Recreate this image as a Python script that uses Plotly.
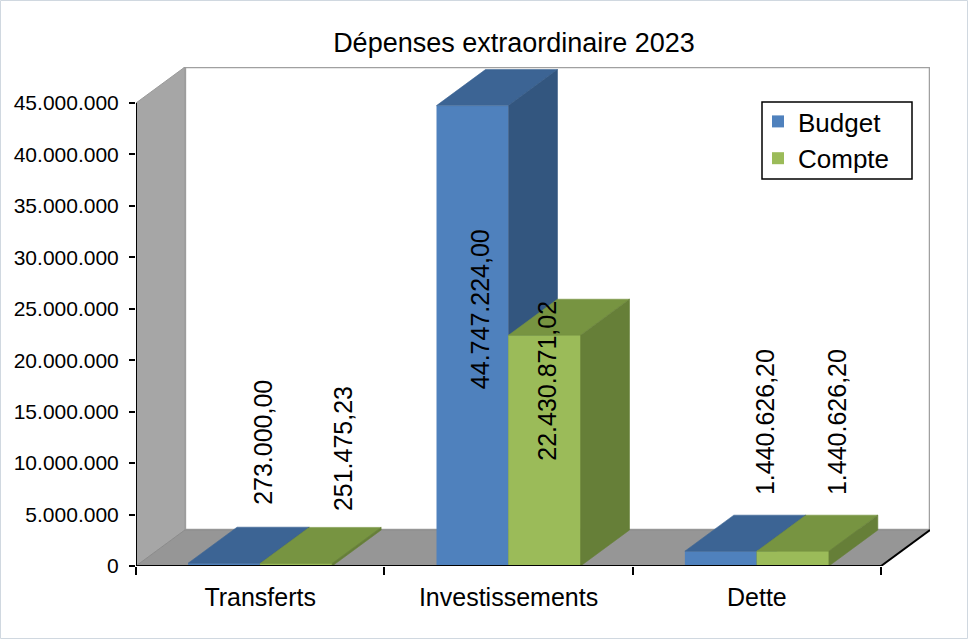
import plotly.graph_objects as go

# ---- data -------------------------------------------------------------
categories = ["Transferts", "Investissements", "Dette"]
budget = [273000.00, 44747224.00, 1440626.20]
compte = [251475.23, 22430871.02, 1440626.20]
y_ticks = [0, 5e6, 10e6, 15e6, 20e6, 25e6, 30e6, 35e6, 40e6, 45e6]
title_text = "Dépenses extraordinaire 2023"

# ---- styling ----------------------------------------------------------
FONT = "Liberation Sans, Arial, sans-serif"
W, H = 968, 639
M_L, M_R, M_T, M_B = 136, 38, 67, 73
PW, PH = W - M_L - M_R, H - M_T - M_B
BAR_W = 0.29            # width of one bar, in category units
DEPTH_X = 0.197         # 3-D depth offset, category units
DEPTH_Y = 3.5e6         # 3-D depth offset, value units
Y_TOP = 45e6
LEGEND_BOX = (762, 102, 912, 179)   # left, top, right, bottom in px

SERIES = [
    dict(name="Budget", values=budget, side=-1,
         front="#4F81BD", top="#3C6494", right="#33567F",
         lab_dx=[39, 7, 44], lab_dy=[56, -286, 54]),
    dict(name="Compte", values=compte, side=1,
         front="#9BBB59", top="#779441", right="#667F38",
         lab_dx=[47, 3, 44], lab_dy=[50, -128, 54]),
]


def fmt_eu(v, dec=2):
    s = f"{v:,.{dec}f}"
    return s.replace(",", "X").replace(".", ",").replace("X", ".")


def px_x(p):
    return (p - M_L) / PW


def px_y(p):
    return (H - M_B - p) / PH


def poly(xs, ys, color):
    return go.Scatter(x=xs + [xs[0]], y=ys + [ys[0]], mode="lines",
                      fill="toself", fillcolor=color,
                      line=dict(color=color, width=0.6),
                      hoverinfo="skip", showlegend=False)


fig = go.Figure()

# front faces as bars (also provide the legend entries)
for s in SERIES:
    xs = [i + 0.5 + s["side"] * BAR_W / 2 for i in range(len(categories))]
    fig.add_trace(go.Bar(x=xs, y=s["values"], width=BAR_W, name=s["name"],
                         marker=dict(color=s["front"], line=dict(width=0)),
                         customdata=categories,
                         hovertemplate="%{customdata}: %{y:,.2f}<extra>" + s["name"] + "</extra>"))

# 3-D faces drawn left to right so that the right bar hides the left bar's side
for k, s in enumerate(SERIES):
    for i, v in enumerate(s["values"]):
        c = i + 0.5 + s["side"] * BAR_W / 2
        x0, x1 = c - BAR_W / 2, c + BAR_W / 2
        if k > 0:
            fig.add_trace(poly([x0, x1, x1, x0], [0, 0, v, v], s["front"]))
        fig.add_trace(poly([x0, x1, x1 + DEPTH_X, x0 + DEPTH_X],
                           [v, v, v + DEPTH_Y, v + DEPTH_Y], s["top"]))
        fig.add_trace(poly([x1, x1 + DEPTH_X, x1 + DEPTH_X, x1],
                           [0, DEPTH_Y, v + DEPTH_Y, v], s["right"]))

# value labels
annotations = []
for s in SERIES:
    for i, v in enumerate(s["values"]):
        c = i + 0.5 + s["side"] * BAR_W / 2
        annotations.append(dict(
            x=c, y=v, xref="x", yref="y", text=fmt_eu(v), showarrow=False,
            textangle=-90, xanchor="center", yanchor="bottom",
            xshift=s["lab_dx"][i], yshift=s["lab_dy"][i],
            font=dict(family=FONT, size=25, color="black")))

# walls, floor and axis lines
n = len(categories)
shapes = [
    # back wall
    dict(type="rect", xref="x", yref="y", x0=DEPTH_X, x1=n + DEPTH_X,
         y0=DEPTH_Y, y1=Y_TOP + DEPTH_Y, fillcolor="white",
         line=dict(color="#A0A0A0", width=2.5), layer="below"),
    # left side wall
    dict(type="path", xref="x", yref="y",
         path=f"M 0 0 L {DEPTH_X} {DEPTH_Y} L {DEPTH_X} {Y_TOP + DEPTH_Y} L 0 {Y_TOP} Z",
         fillcolor="#A6A6A6", line=dict(color="#9A9A9A", width=1), layer="below"),
    # floor
    dict(type="path", xref="x", yref="y",
         path=f"M 0 0 L {n} 0 L {n + DEPTH_X} {DEPTH_Y} L {DEPTH_X} {DEPTH_Y} Z",
         fillcolor="#969696", line=dict(color="#8C8C8C", width=1), layer="below"),
    # floor right edge
    dict(type="line", xref="x", yref="y", x0=n, y0=0, x1=n + DEPTH_X, y1=DEPTH_Y,
         line=dict(color="black", width=2), layer="below"),
    # category axis line
    dict(type="line", xref="x", yref="y", x0=0, y0=0, x1=n, y1=0,
         line=dict(color="black", width=2), layer="above"),
    # value axis line
    dict(type="line", xref="x", yref="y", x0=0, y0=0, x1=0, y1=Y_TOP,
         line=dict(color="black", width=2), layer="above"),
    # legend frame
    dict(type="rect", xref="paper", yref="paper",
         x0=px_x(LEGEND_BOX[0]), x1=px_x(LEGEND_BOX[2]),
         y0=px_y(LEGEND_BOX[3]), y1=px_y(LEGEND_BOX[1]),
         fillcolor="white", line=dict(color="black", width=1.5), layer="above"),
    # outer chart border
    dict(type="rect", xref="paper", yref="paper",
         x0=(-M_L + 0.5) / PW, x1=1 + (M_R - 0.5) / PW,
         y0=(-M_B + 0.5) / PH, y1=1 + (M_T - 0.5) / PH,
         line=dict(color="#D0D8E0", width=1), fillcolor="rgba(0,0,0,0)", layer="below"),
]

fig.update_layout(
    width=W, height=H,
    margin=dict(l=M_L, r=M_R, t=M_T, b=M_B, autoexpand=False),
    paper_bgcolor="white", plot_bgcolor="white",
    font=dict(family=FONT, color="black"),
    title=dict(text=title_text, x=514 / W, xref="container", xanchor="center",
               y=1 - 43 / H, yref="container", yanchor="middle",
               font=dict(family=FONT, size=27, color="black")),
    barmode="overlay",
    showlegend=True,
    legend=dict(x=px_x(758), y=px_y(98),
                xanchor="left", yanchor="top", bgcolor="rgba(0,0,0,0)",
                borderwidth=0,
                font=dict(family=FONT, size=26, color="black"),
                itemsizing="constant", tracegroupgap=0),
    shapes=shapes,
    annotations=annotations,
    xaxis=dict(range=[0, n + DEPTH_X], showgrid=False, zeroline=False,
               showline=False, tickmode="array",
               tickvals=[i + 0.5 for i in range(n)], ticktext=categories,
               ticks="", ticklabelstandoff=14,
               tickfont=dict(family=FONT, size=25, color="black"),
               minor=dict(tickmode="array", tickvals=list(range(n + 1)),
                          ticks="outside", ticklen=8, tickwidth=1.5,
                          tickcolor="black", showgrid=False),
               fixedrange=True),
    yaxis=dict(range=[0, Y_TOP + DEPTH_Y], showgrid=False, zeroline=False,
               showline=False, tickmode="array", tickvals=y_ticks,
               ticktext=[fmt_eu(v, 0) for v in y_ticks],
               ticks="outside", ticklen=6, tickwidth=1.5, tickcolor="black",
               ticklabelstandoff=6,
               tickfont=dict(family=FONT, size=21, color="black"),
               fixedrange=True),
)

fig.write_html("out.html")
